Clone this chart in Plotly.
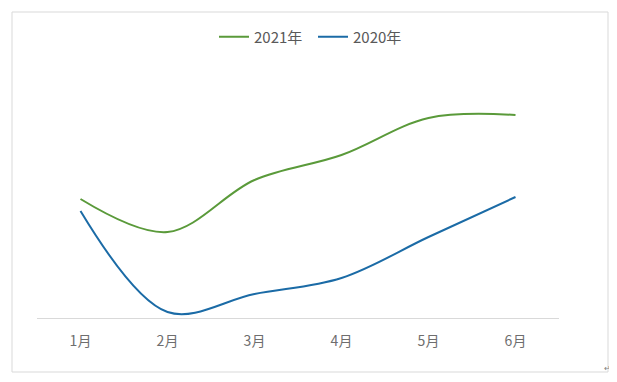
import plotly.graph_objects as go

months = ["1月", "2月", "3月", "4月", "5月", "6月"]
s2021 = [119, 86, 138, 163, 200, 203]
s2020 = [107, 6, 24, 40, 81, 121]

OFF = 8  # page body margin
W, H = 617 - OFF, 382 - OFF
L, R, T, B = 37 - OFF, 617 - 559, 70 - OFF, 382 - 318
pw = W - L - R
ph = H - T - B

def px(x):
    return (x - OFF - L) / pw

def py(y):
    return (H - B - (y - OFF)) / ph

fig = go.Figure()
fig.add_trace(go.Scatter(x=months, y=s2021, name="2021年", mode="lines",
                         line=dict(color="#5A9A3A", width=2, shape="spline", smoothing=1)))
fig.add_trace(go.Scatter(x=months, y=s2020, name="2020年", mode="lines",
                         line=dict(color="#1B6BA6", width=2, shape="spline", smoothing=1)))

fig.update_layout(
    width=W, height=H,
    margin=dict(l=L, r=R, t=T, b=B),
    paper_bgcolor="white", plot_bgcolor="white",
    font=dict(family="Noto Sans CJK SC", size=14, color="#595959"),
    showlegend=True,
    legend=dict(orientation="h", x=px(214), xanchor="left", y=py(37), yanchor="middle",
                font=dict(size=15, color="#595959"), entrywidth=54, tracegroupgap=0),
    xaxis=dict(showgrid=False, showline=True, linecolor="#D9D9D9", linewidth=1,
               range=[-0.5, 5.5], ticks="", ticklabelstandoff=10,
               tickfont=dict(size=14, color="#6E6E6E"), fixedrange=True),
    yaxis=dict(range=[0, ph], visible=False, showgrid=False, zeroline=False),
    shapes=[dict(type="rect", xref="paper", yref="paper",
                 x0=px(12), x1=px(608), y0=py(372), y1=py(12),
                 line=dict(color="#D9D9D9", width=1), fillcolor="rgba(0,0,0,0)", layer="below")],
    annotations=[dict(text="↵", xref="paper", yref="paper", x=px(613), y=py(375),
                      showarrow=False, font=dict(size=8, color="#7F7F7F"))],
)

fig.write_html("out.html")
